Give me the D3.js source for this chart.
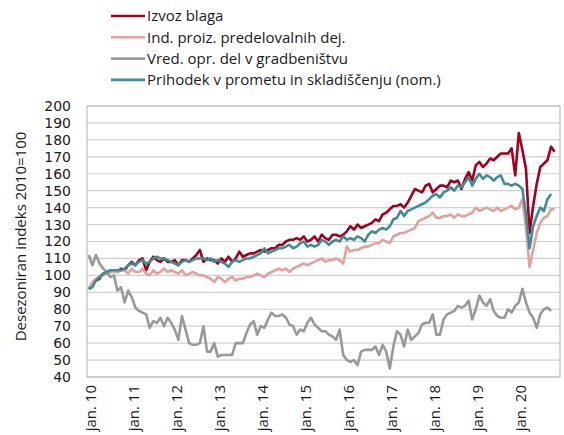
<!DOCTYPE html>
<html>
<head>
<meta charset="utf-8">
<script src="https://d3js.org/d3.v7.min.js"></script>
<style>
  body { margin: 0; background: #fff; }
  text { font-family: "Open Sans", "Noto Sans", sans-serif; fill: #1a1a1a; }
  .grid line { stroke: #d0d0d0; stroke-width: 1.2px; }
  .series { fill: none; stroke-width: 2.6px; stroke-linejoin: round; }
</style>
</head>
<body>
<svg width="564" height="435"></svg>
<script>

// months jan. 2010 .. dec. 2020 on the category axis
var years = ["10", "11", "12", "13", "14", "15", "16", "17", "18", "19", "20"];
var tickLabels = years.map(function(y) { return "jan. " + y; });
var nMonths = 132;

var seriesNames = [
    "Izvoz blaga",
    "Ind. proiz. predelovalnih dej.",
    "Vred. opr. del v gradbeništvu",
    "Prihodek v prometu in skladiščenju (nom.)"
];
var seriesColors = ["#a1001f", "#e3a09d", "#999999", "#3f8d94"];

// Izvoz blaga
var izvoz = [
    92, 95, 97, 98, 101, 101, 102, 103, 102, 104, 103, 106,
    108, 106, 109, 110, 103, 108, 111, 109, 108, 110, 108, 108,
    109, 106, 109, 109, 108, 110, 112, 115, 108, 110, 109, 109,
    107, 110, 108, 111, 108, 110, 114, 111, 112, 113, 113, 114,
    115, 114, 115, 116, 116, 118, 118, 120, 121, 121, 122, 121,
    123, 120, 121, 123, 120, 124, 122, 121, 124, 124, 123, 124,
    126, 129, 127, 130, 128, 129, 130, 131, 133, 132, 136, 137,
    139, 141, 141, 142, 140, 143, 147, 151, 150, 149, 153, 154,
    149, 151, 153, 153, 152, 156, 155, 156, 151, 157, 161, 156,
    165, 167, 164, 166, 169, 168, 170, 172, 172, 172, 175, 159,
    184, 174, 163, 125, 141, 154, 164, 166, 168, 176, 173
];

// Ind. proiz. predelovalnih dej.
var predelovalne = [
    92, 96, 98, 99, 100, 101, 102, 102, 102, 103, 103, 101,
    104, 102, 102, 104, 101, 100, 103, 101, 102, 104, 102, 103,
    102, 101, 103, 100, 101, 102, 101, 100, 100, 99, 98, 96,
    99, 98, 96, 98, 99, 97, 98, 98, 99, 99, 100, 101,
    100, 99, 101, 102, 103, 104, 103, 104, 102, 104, 105, 106,
    107, 106, 107, 108, 109, 110, 108, 109, 109, 110, 109, 107,
    117, 114, 115, 115, 116, 117, 117, 118, 119, 119, 121, 120,
    119, 123, 124, 125, 125, 126, 127, 128, 132, 133, 134, 135,
    137, 134, 134, 135, 135, 136, 134, 136, 135, 135, 136, 137,
    140, 138, 139, 140, 139, 138, 140, 138, 139, 140, 141, 139,
    140, 145, 128, 105, 115, 125, 131, 134, 135, 139, 139
];

// Vred. opr. del v gradbeništvu
var gradbenistvo = [
    112, 106, 112, 107, 104, 102, 99, 100, 91, 93, 84, 91,
    87, 81, 79, 78, 77, 69, 73, 72, 75, 70, 75, 72,
    68, 62, 76, 68, 60, 59, 59, 60, 70, 55, 55, 60,
    52, 53, 53, 53, 53, 60, 60, 60, 66, 71, 73, 65,
    70, 69, 74, 78, 76, 76, 77, 75, 71, 70, 65, 68,
    67, 72, 75, 71, 69, 67, 67, 65, 64, 62, 68, 53,
    50, 49, 50, 47, 55, 56, 56, 56, 58, 53, 59, 55,
    45, 58, 67, 65, 58, 68, 62, 64, 66, 71, 72, 72,
    77, 65, 65, 74, 77, 78, 79, 82, 81, 82, 85, 74,
    80, 88, 84, 82, 86, 79, 76, 75, 75, 80, 78, 82,
    84, 92, 84, 78, 75, 69, 77, 80, 81, 79
];

// Prihodek v prometu in skladiščenju (nom.)
var promet = [
    92, 93, 97, 99, 101, 102, 103, 103, 103, 103, 104, 106,
    107, 106, 108, 109, 107, 108, 110, 111, 110, 110, 109, 108,
    107, 106, 108, 109, 108, 109, 110, 110, 110, 109, 110, 108,
    109, 108, 107, 105, 108, 109, 108, 109, 110, 110, 111, 112,
    113, 116, 113, 114, 115, 116, 116, 117, 118, 116, 117, 119,
    120, 117, 118, 117, 118, 121, 120, 118, 120, 121, 120, 123,
    121, 122, 121, 123, 122, 120, 124, 126, 125, 127, 128, 127,
    129, 133, 134, 138, 135, 138, 139, 140, 141, 142, 143, 145,
    147, 148, 146, 149, 150, 152, 150, 153, 152, 155, 158, 153,
    157, 160, 157, 159, 158, 156, 158, 159, 154, 154, 153, 154,
    153, 151, 136, 116, 129, 135, 140, 138, 145, 148
];

var allSeries = [izvoz, predelovalne, gradbenistvo, promet];

var svg = d3.select("svg");

var margin = {left: 87, right: 4, top: 106, bottom: 58};
var width = 564, height = 435;

var x = d3.scalePoint()
    .domain(d3.range(nMonths))
    .range([margin.left, width - margin.right])
    .padding(0.5);

var y = d3.scaleLinear()
    .domain([40, 200])
    .range([height - margin.bottom, margin.top]);

// grid lines
svg.append("g")
    .attr("class", "grid")
    .selectAll("line")
    .data(y.ticks(16))
    .enter().append("line")
    .attr("x1", margin.left)
    .attr("x2", width - margin.right)
    .attr("y1", function(d) { return y(d); })
    .attr("y2", function(d) { return y(d); });

// plot border
svg.append("rect")
    .attr("x", margin.left)
    .attr("y", margin.top)
    .attr("width", width - margin.right - margin.left)
    .attr("height", height - margin.bottom - margin.top)
    .attr("fill", "none")
    .attr("stroke", "#c4c4c4")
    .attr("stroke-width", 1.3);

// y axis labels
var yAxis = d3.axisLeft(y).tickValues(y.ticks(16)).tickSize(0).tickPadding(16);
svg.append("g")
    .attr("transform", "translate(" + margin.left + ",0)")
    .call(yAxis)
    .call(function(g) { g.select(".domain").remove(); })
    .selectAll("text")
    .style("font-size", "14px")
    .style("font-family", "'DejaVu Sans', sans-serif")
    .attr("fill", "#1a1a1a");

svg.append("text")
    .attr("transform", "translate(26," + ((margin.top + height - margin.bottom) / 2 - 5) + ") rotate(-90)")
    .attr("text-anchor", "middle")
    .style("font-size", "15px")
    .text("Desezoniran indeks 2010=100");

// x axis labels (every january)
svg.append("g")
    .selectAll("text")
    .data(tickLabels)
    .enter().append("text")
    .attr("transform", function(d, i) {
        return "translate(" + (x(i * 12) + 2) + "," + (height - margin.bottom + 8) + ") rotate(-90)";
    })
    .attr("text-anchor", "end")
    .attr("dy", "0.35em")
    .style("font-size", "15px")
    .text(function(d) { return d; });

// lines
var line = d3.line()
    .x(function(d, i) { return x(i); })
    .y(function(d) { return y(d); });

svg.append("g")
    .selectAll("path")
    .data(allSeries)
    .enter().append("path")
    .attr("class", "series")
    .attr("stroke", function(d, i) { return seriesColors[i]; })
    .attr("d", line);

// legend
var legend = svg.append("g")
    .selectAll("g")
    .data(seriesNames)
    .enter().append("g")
    .attr("transform", function(d, i) { return "translate(111," + (16 + i * 21.3) + ")"; });

legend.append("line")
    .attr("x1", 0)
    .attr("x2", 34)
    .attr("stroke", function(d, i) { return seriesColors[i]; })
    .attr("stroke-width", 2.6);

legend.append("text")
    .attr("x", 36)
    .attr("dy", "0.35em")
    .style("font-size", "15px")
    .text(function(d) { return d; });

</script>
</body>
</html>
